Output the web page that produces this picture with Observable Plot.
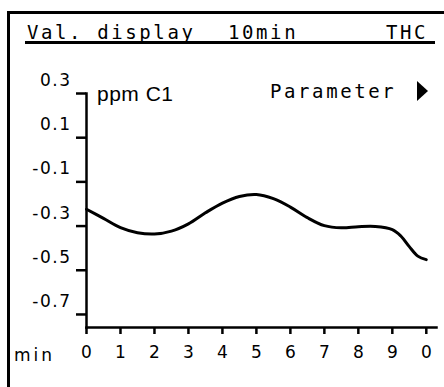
<!DOCTYPE html>
<html>
<head>
<meta charset="utf-8">
<script src="https://cdn.jsdelivr.net/npm/d3@7"></script>
<script src="https://cdn.jsdelivr.net/npm/@observablehq/plot@0.6"></script>
<style>
  html, body { margin: 0; padding: 0; background: #fff; }
  #wrap { position: relative; width: 444px; height: 387px; overflow: hidden; background: #fff; }
  #wrap svg { position: absolute; left: 0; top: 0; }
  #wrap svg text { font-size: 17px; font-family: "DejaVu Sans", sans-serif; fill: #000; }
  #wrap svg g.yl text { letter-spacing: 1.5px; }
  .border-left { position: absolute; left: 7px; top: 11px; width: 2.5px; height: 380px; background: #000; }
  .border-top { position: absolute; left: 7px; top: 11px; width: 440px; height: 2.5px; background: #000; }
  .underline { position: absolute; left: 25px; top: 41px; width: 410px; height: 2.5px; background: #000; }
  .mono { position: absolute; font-family: "DejaVu Sans Mono", "Liberation Mono", monospace; font-size: 19px; letter-spacing: 2.6px; line-height: 20px; color: #000; white-space: pre; }
  .sans { position: absolute; font-family: "Liberation Sans", Arial, sans-serif; font-size: 21px; line-height: 21px; color: #000; white-space: pre; letter-spacing: 0.5px; }
  .unit { position: absolute; font-family: "DejaVu Sans", sans-serif; font-size: 17px; line-height: 17px; letter-spacing: 3px; color: #000; }
  .tri { position: absolute; left: 417px; top: 81px; width: 0; height: 0; border-top: 10px solid transparent; border-bottom: 10px solid transparent; border-left: 11px solid #000; }
</style>
</head>
<body>
<div id="wrap">
  <div class="border-left"></div>
  <div class="border-top"></div>
  <div class="underline"></div>
  <div class="mono" style="left:27px; top:22px;">Val. display</div>
  <div class="mono" style="left:228px; top:22px;">10min</div>
  <div class="mono" style="left:386px; top:22px;">THC</div>
  <div class="sans" style="left:97px; top:83px;">ppm C1</div>
  <div class="mono" style="left:270px; top:81px;">Parameter</div>
  <div class="tri"></div>
  <div class="unit" style="left:14px; top:347px;">min</div>
</div>
<script>
// Data
const minutes = [0, 0.5, 1, 1.5, 2, 2.5, 3, 3.5, 4, 4.5, 5, 5.5, 6, 6.5, 7, 7.5, 8, 8.5, 9, 9.25, 9.5, 9.75, 10];
const thc = [-0.224, -0.265, -0.307, -0.33, -0.336, -0.323, -0.29, -0.24, -0.196, -0.166, -0.157, -0.176, -0.214, -0.262, -0.298, -0.308, -0.303, -0.302, -0.316, -0.345, -0.393, -0.436, -0.452];

const yTicks = [0.3, 0.1, -0.1, -0.3, -0.5, -0.7];
const yTickLabels = ["0.3", "0.1", "-0.1", "-0.3", "-0.5", "-0.7"];
const xTicks = [0, 1, 2, 3, 4, 5, 6, 7, 8, 9, 10];
const xTickLabels = ["0", "1", "2", "3", "4", "5", "6", "7", "8", "9", "0"];

const data = minutes.map((m, i) => ({minute: m, value: thc[i]}));

const chart = Plot.plot({
  width: 444,
  height: 387,
  marginLeft: 86,
  marginRight: 8,
  marginTop: 93,
  marginBottom: 60,
  style: {background: "transparent", fontFamily: "DejaVu Sans, sans-serif", fontSize: "17px", color: "#000"},
  x: {domain: [0, 10.3]},
  y: {domain: [-0.759, 0.3]},
  marks: [
    Plot.axisY({ticks: yTicks, tickSize: 10, strokeWidth: 2.5, text: null, label: null}),
    Plot.axisY({ticks: yTicks, tickSize: 0, tickPadding: 15, dy: -13, tickFormat: d => yTickLabels[yTicks.indexOf(d)], label: null}),
    Plot.axisX({ticks: xTicks, tickSize: 7, strokeWidth: 2.5, tickPadding: 11, tickFormat: d => xTickLabels[xTicks.indexOf(d)], label: null}),
    Plot.frame({anchor: "left", strokeWidth: 2.5}),
    Plot.frame({anchor: "bottom", strokeWidth: 2.5}),
    Plot.line(data, {x: "minute", y: "value", curve: "catmull-rom", strokeWidth: 3, stroke: "#000"})
  ]
});
d3.select(chart).selectAll("g[aria-label='y-axis tick label']").classed("yl", true);
document.getElementById("wrap").appendChild(chart);
</script>
</body>
</html>
